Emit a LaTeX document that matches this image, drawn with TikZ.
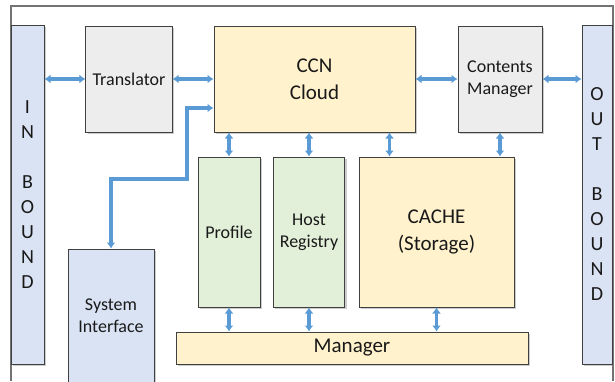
\documentclass[tikz,border=0pt]{standalone}
\usepackage{fontspec}
\setmainfont{Carlito}
\usepackage{tikz}
\usetikzlibrary{arrows.meta, shadows}

\definecolor{boundblue}{HTML}{DAE3F3}
\definecolor{boxgray}{HTML}{EDEDED}
\definecolor{boxyellow}{HTML}{FFF2CC}
\definecolor{boxgreen}{HTML}{E2F0D9}
\definecolor{linkblue}{HTML}{5B9BD5}

\tikzset{
    box/.style={draw=black!75, line width=0.5pt, rectangle, align=center,
        text=black!90, font=\fontsize{9}{11}\selectfont,
        drop shadow={shadow xshift=1pt, shadow yshift=-1pt, opacity=0.4}},
    bigbox/.style={box, font=\fontsize{10.5}{13.5}\selectfont},
    link/.style={draw=linkblue, line width=1.7pt,
        {Latex[length=3pt,width=4.5pt]}-{Latex[length=3pt,width=4.5pt]}}
}

\begin{document}
\begin{tikzpicture}[x=0.5pt, y=-0.5pt]

    \useasboundingbox (0,0) rectangle (615,381);

    % Outer frame
    \draw[black!55, line width=0.6pt] (11,381) -- (11,6) -- (613,6) -- (613,381);

    % Define the boxes
    \node[bigbox, fill=boundblue, minimum width=16.5pt, minimum height=169.5pt,
        font=\fontsize{10}{12.5}\selectfont] (inb) at (27.5,194.5) {I\\N\\[12.5pt]B\\O\\U\\N\\D};
    \node[box, fill=boxgray, minimum width=43pt, minimum height=53pt] (trans) at (129,79) {Translator};
    \node[bigbox, fill=boxyellow, minimum width=100.5pt, minimum height=53pt] (ccn) at (314.5,79) {CCN\\Cloud};
    \node[box, fill=boxgray, minimum width=42pt, minimum height=53pt] (cont) at (500,79) {Contents\\Manager};
    \node[bigbox, fill=boundblue, minimum width=15pt, minimum height=169.5pt,
        font=\fontsize{10}{12.5}\selectfont] (outb) at (597,194.5) {O\\U\\T\\[12.5pt]B\\O\\U\\N\\D};
    \node[box, fill=boxgreen, minimum width=31pt, minimum height=75pt] (prof) at (229,232) {Profile};
    \node[box, fill=boxgreen, minimum width=34pt, minimum height=75pt] (host) at (309,232) {Host\\Registry};
    \node[bigbox, fill=boxyellow, minimum width=77.5pt, minimum height=75pt] (cache) at (436.5,232) {CACHE\\(Storage)};
    \node[bigbox, fill=boxyellow, minimum width=176pt, minimum height=16pt] (mgr) at (352,348) {Manager};
    \node[box, fill=boundblue, minimum width=43pt, minimum height=67pt] (sys) at (111,316) {System\\Interface};

    % Helper points
    \coordinate (cc) at ([xshift=15.5pt]cache.north west);
    \coordinate (si) at ([yshift=-14.5pt]ccn.west);
    \coordinate (bend) at (187,179);

    % Horizontal links
    \draw[link] (inb.east |- trans.west) -- (trans.west);
    \draw[link] (trans.east) -- (ccn.west);
    \draw[link] (ccn.east) -- (cont.west);
    \draw[link] (cont.east) -- (outb.west |- cont.east);

    % Vertical links
    \draw[link] (ccn.south -| prof.north) -- (prof.north);
    \draw[link] (ccn.south -| host.north) -- (host.north);
    \draw[link] (cc |- ccn.south) -- (cc);
    \draw[link] (cont.south) -- (cont.south |- cache.north);
    \draw[link] (prof.south) -- (prof.south |- mgr.north);
    \draw[link] (host.south) -- (host.south |- mgr.north);
    \draw[link] (cache.south) -- (cache.south |- mgr.north);

    % System interface link
    \draw[link] (si) -| (bend) -| (sys.north);

\end{tikzpicture}
\end{document}
